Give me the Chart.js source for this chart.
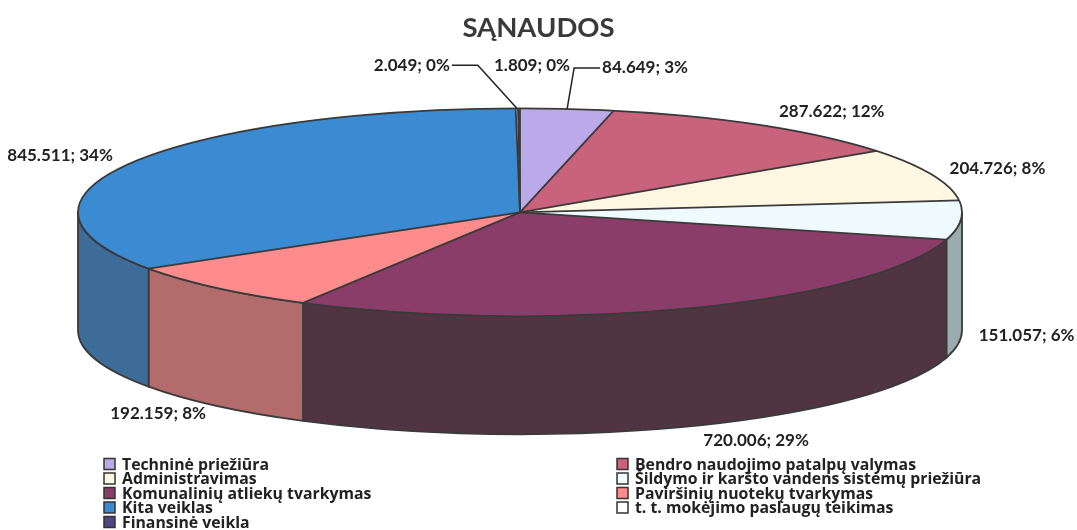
<!DOCTYPE html>
<html>
<head>
<meta charset="utf-8">
<title>SĄNAUDOS</title>
<script src="https://cdn.jsdelivr.net/npm/chart.js@4.4.1/dist/chart.umd.min.js"></script>
<style>
  html, body { margin: 0; padding: 0; background: #fff; }
</style>
</head>
<body>
<canvas id="myChart" width="1077" height="530"></canvas>
<script>
// data
const categories = [
  'Techninė priežiūra',
  'Bendro naudojimo patalpų valymas',
  'Administravimas',
  'Šildymo ir karšto vandens sistemų priežiūra',
  'Komunalinių atliekų tvarkymas',
  'Paviršinių nuotekų tvarkymas',
  'Kita veiklas',
  't. t. mokėjimo paslaugų teikimas',
  'Finansinė veikla'
];
const costs = [84649, 287622, 204726, 151057, 720006, 192159, 845511, 2049, 1809];

// colours of the top face and of the side wall
const topColors = ['#BBAAEA', '#C9627B', '#FFF7E1', '#EFFAFE', '#8B3D69', '#FF8C8C', '#3A8BD2', '#FFFFFF', '#4E4585'];
const sideColors = ['#7E73A3', '#8E4656', '#B3AC9C', '#9AACAE', '#503442', '#B26C6C', '#3E6C98', '#B8B8B8', '#3A3360'];

// "84649" -> "84.649"
const fmt = v => String(v).replace(/\B(?=(\d{3})+(?!\d))/g, '.');

// centre of the squashed pie (arc centre moved by shiftX)
const pieCentre = (chart, opts) => {
  const arc = chart.getDatasetMeta(0).data[0];
  return { x: arc.x + opts.shiftX, y: arc.y, rx: arc.outerRadius, ry: arc.outerRadius * opts.tilt };
};

// squashed pie with a side wall
const pie3d = {
  id: 'pie3d',
  beforeDatasetsDraw(chart, args, opts) {
    const ctx = chart.ctx;
    const arcs = chart.getDatasetMeta(0).data;
    const { x: cx, y: cy, rx, ry } = pieCentre(chart, opts);
    const d = opts.depth;

    ctx.save();
    ctx.lineWidth = opts.lineWidth;
    ctx.strokeStyle = opts.lineColor;
    ctx.lineJoin = 'round';
    arcs.forEach((arc, i) => {
      // only the front half of the wall can be seen
      const s = Math.max(arc.startAngle, 0);
      const e = Math.min(arc.endAngle, Math.PI);
      if (e <= s) return;
      ctx.beginPath();
      ctx.ellipse(cx, cy, rx, ry, 0, s, e);
      ctx.ellipse(cx, cy + d, rx, ry, 0, e, s, true);
      ctx.closePath();
      ctx.fillStyle = sideColors[i];
      ctx.fill();
      ctx.stroke();
    });
    ctx.restore();

    // let Chart.js draw the top face in a squashed context
    ctx.save();
    ctx.translate(cx, cy);
    ctx.scale(1, opts.tilt);
    ctx.translate(-arcs[0].x, -arcs[0].y);
  },
  afterDatasetsDraw(chart, args, opts) {
    const ctx = chart.ctx;
    ctx.restore();

    const arcs = chart.getDatasetMeta(0).data;
    const { x: cx, y: cy, rx, ry } = pieCentre(chart, opts);

    ctx.save();
    ctx.lineWidth = opts.lineWidth;
    ctx.strokeStyle = opts.lineColor;
    ctx.lineJoin = 'round';
    arcs.forEach(arc => {
      ctx.beginPath();
      ctx.moveTo(cx, cy);
      ctx.lineTo(cx + rx * Math.cos(arc.startAngle), cy + ry * Math.sin(arc.startAngle));
      ctx.stroke();
    });
    ctx.beginPath();
    ctx.ellipse(cx, cy, rx, ry, 0, 0, Math.PI * 2);
    ctx.stroke();
    ctx.restore();
  }
};

// "value; percent" labels round the pie
const sliceLabels = {
  id: 'sliceLabels',
  afterDraw(chart, args, opts) {
    const ctx = chart.ctx;
    const arcs = chart.getDatasetMeta(0).data;
    const values = chart.data.datasets[0].data;
    const total = values.reduce((a, b) => a + b, 0);
    const { x: cx, y: cy, rx, ry } = pieCentre(chart, opts);

    ctx.save();
    ctx.font = opts.font;
    ctx.fillStyle = opts.color;
    ctx.strokeStyle = opts.color;
    ctx.lineWidth = 1.5;
    ctx.textBaseline = 'middle';
    ctx.textAlign = 'center';
    arcs.forEach((arc, i) => {
      const m = (arc.startAngle + arc.endAngle) / 2;
      const c = Math.cos(m), s = Math.sin(m);
      const text = fmt(values[i]) + '; ' + Math.round(values[i] / total * 100) + '%';
      const w = ctx.measureText(text).width;
      const rimX = cx + rx * c, rimY = cy + ry * s;
      const nudge = opts.nudge[i] || [0, 0];
      const x = rimX + Math.sign(c) * (w / 2 + opts.gap) + nudge[0];
      const y = cy + (ry + opts.lift) * s + (s > 0 ? opts.depth - 4 : 0) + nudge[1];
      ctx.fillText(text, x, y);
      if (opts.leader[i]) {
        const dir = x > rimX ? -1 : 1;
        const ex = x + dir * (w / 2 + 2);
        ctx.beginPath();
        ctx.moveTo(ex, y);
        ctx.lineTo(ex + dir * 26, y);
        ctx.lineTo(rimX, rimY);
        ctx.stroke();
      }
    });
    ctx.restore();
  }
};

// legend in two columns under the pie
const twoColLegend = {
  id: 'twoColLegend',
  afterDraw(chart, args, opts) {
    const ctx = chart.ctx;
    const b = opts.boxSize;
    ctx.save();
    ctx.font = opts.font;
    ctx.textBaseline = 'middle';
    ctx.textAlign = 'left';
    ctx.lineWidth = 1.5;
    categories.forEach((name, i) => {
      const col = i % 2, row = Math.floor(i / 2);
      const x = opts.x[col], y = opts.y + row * opts.rowHeight;
      ctx.fillStyle = topColors[i];
      ctx.fillRect(x, y - b / 2, b, b);
      ctx.strokeStyle = '#333';
      ctx.strokeRect(x, y - b / 2, b, b);
      ctx.fillStyle = opts.color;
      ctx.fillText(name, x + 18, y + 1);
    });
    ctx.restore();
  }
};

const TILT = 104 / 442;
const DEPTH = 118;
const SHIFT_X = -18.5;

new Chart(document.getElementById('myChart'), {
  type: 'pie',
  data: {
    labels: categories,
    datasets: [{
      data: costs,
      backgroundColor: topColors,
      borderWidth: 0,
      clip: false
    }]
  },
  options: {
    responsive: false,
    animation: false,
    events: [],
    radius: 442,
    layout: { padding: { left: 0, right: 0, top: 0, bottom: 150.4 } },
    plugins: {
      legend: { display: false },
      tooltip: { enabled: false },
      title: {
        display: true,
        text: 'SĄNAUDOS',
        color: '#3a3a3a',
        font: { family: 'Lato', size: 27.5, weight: 'bold' },
        padding: { top: 12, bottom: 0 }
      },
      pie3d: { tilt: TILT, depth: DEPTH, shiftX: SHIFT_X, lineWidth: 1.8, lineColor: '#3a3a3a' },
      sliceLabels: {
        tilt: TILT, depth: DEPTH, shiftX: SHIFT_X, gap: 18, lift: 16,
        font: 'bold 17px Lato', color: '#222',
        nudge: [[17, -25], [0, 0], [0, 0], [0, 0], [-5, 3], [7, 0], [0, 0], [-49, -27], [69, -27]],
        leader: [true, false, false, false, false, false, false, true, false]
      },
      twoColLegend: { x: [104, 617], y: 464, rowHeight: 14.5, boxSize: 11, font: 'bold 15.8px "Open Sans"', color: '#222' }
    }
  },
  plugins: [pie3d, sliceLabels, twoColLegend]
});
</script>
</body>
</html>
